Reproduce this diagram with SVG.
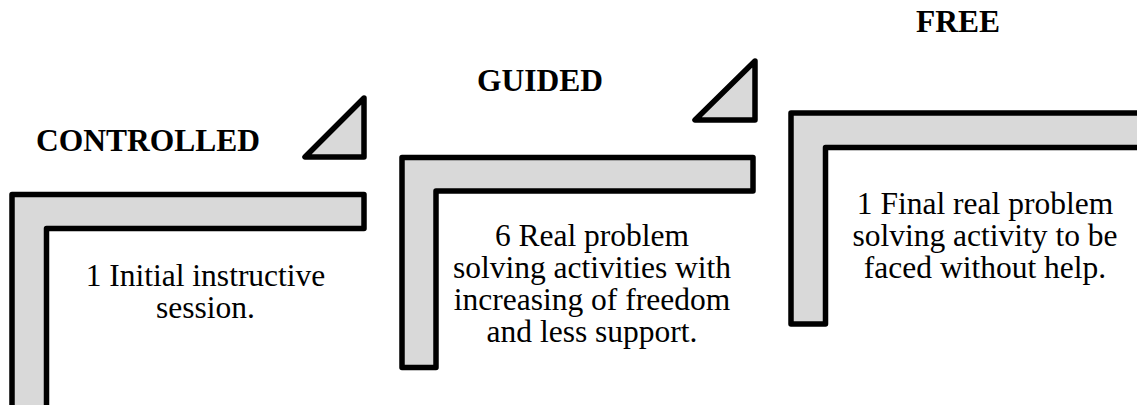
<svg xmlns="http://www.w3.org/2000/svg" width="1137" height="405" viewBox="0 0 1137 405">
  <style>
    .step { fill: #d9d9d9; stroke: #000; stroke-width: 5.5; stroke-linejoin: round; }
    .label { font-family: "Liberation Serif", "Times New Roman", serif; font-weight: bold; font-size: 31.5px; text-anchor: middle; fill: #000; }
    .body { font-family: "Liberation Serif", "Times New Roman", serif; font-weight: normal; font-size: 31.5px; text-anchor: middle; fill: #000; }
  </style>
  <rect width="1137" height="405" fill="#fff"/>

  <!-- wedges between the steps -->
  <g id="connectors">
    <path class="step" d="M305,157 H364 V98 Z"/>
    <path class="step" d="M695,120 H755 V61 Z"/>
  </g>

  <g id="controlled">
    <path class="step" d="M12,194.5 H364 V228.5 H46.5 V420 H12 Z"/>
    <text class="label" x="148" y="151">CONTROLLED</text>
    <text class="body" x="205.5" y="286">1 Initial instructive</text>
    <text class="body" x="205.5" y="318">session.</text>
  </g>

  <g id="guided">
    <path class="step" d="M402,157.5 H753 V191 H436 V367.5 H402 Z"/>
    <text class="label" x="540" y="91">GUIDED</text>
    <text class="body" x="592" y="246">6 Real problem</text>
    <text class="body" x="592" y="278">solving activities with</text>
    <text class="body" x="592" y="310">increasing of freedom</text>
    <text class="body" x="592" y="342">and less support.</text>
  </g>

  <g id="free">
    <path class="step" d="M791,113 H1150 V147.5 H825.5 V324 H791 Z"/>
    <text class="label" x="958" y="32">FREE</text>
    <text class="body" x="985" y="214">1 Final real problem</text>
    <text class="body" x="985" y="246">solving activity to be</text>
    <text class="body" x="985" y="278">faced without help.</text>
  </g>
</svg>
